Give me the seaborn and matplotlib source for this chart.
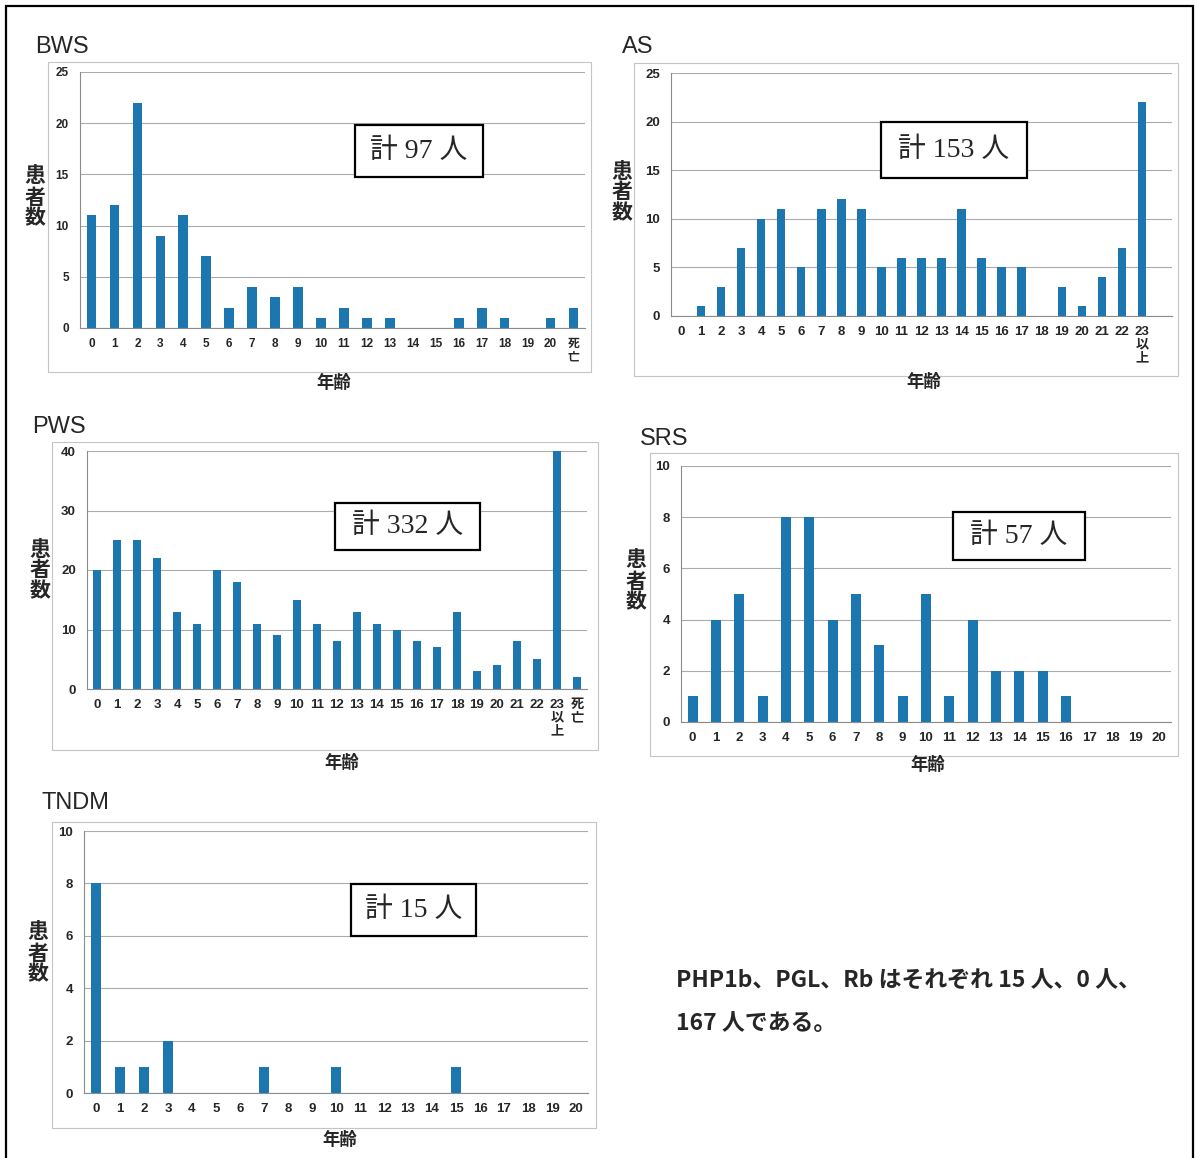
import matplotlib
matplotlib.use("Agg")
import matplotlib.pyplot as plt
import seaborn as sns
import pandas as pd
import numpy as np
from matplotlib.patches import Rectangle

W, H = 1198, 1158
BAR = "#1c76b0"

# data
bws_ages = [str(i) for i in range(21)] + ["死\n亡"]
bws_counts = [11, 12, 22, 9, 11, 7, 2, 4, 3, 4, 1, 2, 1, 1, 0, 0, 1, 2, 1, 0, 1, 2]

as_ages = [str(i) for i in range(23)] + ["23\n以\n上"]
as_counts = [0, 1, 3, 7, 10, 11, 5, 11, 12, 11, 5, 6, 6, 6, 11, 6, 5, 5, 0, 3, 1, 4, 7, 22]

pws_ages = [str(i) for i in range(23)] + ["23\n以\n上", "死\n亡"]
pws_counts = [20, 25, 25, 22, 13, 11, 20, 18, 11, 9, 15, 11, 8, 13, 11, 10, 8, 7, 13, 3, 4, 8, 5, 40, 2]

srs_ages = [str(i) for i in range(21)]
srs_counts = [1, 4, 5, 1, 8, 8, 4, 5, 3, 1, 5, 1, 4, 2, 2, 2, 1, 0, 0, 0, 0]

tndm_ages = [str(i) for i in range(21)]
tndm_counts = [8, 1, 1, 2, 0, 0, 0, 1, 0, 0, 1, 0, 0, 0, 0, 1, 0, 0, 0, 0, 0]

sns.set_theme(style="white")
plt.rcParams["font.family"] = ["Liberation Sans", "Noto Sans CJK JP"]

fig = plt.figure(figsize=(W / 100, H / 100), dpi=100)


def fx(x):
    return x / W


def fy(y):
    return 1 - y / H


def box(l, t, r, b, **kw):
    fig.add_artist(Rectangle((fx(l), fy(b)), (r - l) / W, (b - t) / H,
                             transform=fig.transFigure, **kw))


def panel(name, ages, counts, ymax, ystep, plot_px, frame_px, title_xy,
          ylab_xy, xlab_xy, total, total_px, nslots=None, tsize=9.5):
    box(*frame_px, fill=False, edgecolor="#c4c4c4", lw=0.8, zorder=0)
    l, t, r, b = plot_px
    ax = fig.add_axes([fx(l), fy(b), (r - l) / W, (b - t) / H])
    ax.patch.set_alpha(0)
    df = pd.DataFrame({"age": ages, "count": counts})
    sns.barplot(data=df, x="age", y="count", order=ages, color=BAR,
                saturation=1, width=0.42, linewidth=0, ax=ax)
    n = nslots or len(ages)
    ax.set_xlim(-0.5, n - 0.5)
    ax.set_ylim(0, ymax)
    ax.set_yticks(np.arange(0, ymax + 1, ystep))
    ax.yaxis.grid(True, color="#ababab", lw=0.8)
    ax.set_axisbelow(True)
    for s in ["top", "right"]:
        ax.spines[s].set_visible(False)
    for s in ["left", "bottom"]:
        ax.spines[s].set_color("#8c8c8c")
        ax.spines[s].set_linewidth(0.8)
    ax.tick_params(axis="y", length=4, width=0.8, color="#8c8c8c", pad=4,
                   labelsize=tsize)
    ax.set_xticks(np.arange(-0.5, n), minor=True)
    ax.tick_params(axis="x", which="major", length=0, pad=7, labelsize=tsize)
    ax.tick_params(axis="x", which="minor", length=4, width=0.8,
                   color="#8c8c8c")
    ax.set_xticklabels(ages, linespacing=1.15, fontweight="bold")
    for lab in ax.get_yticklabels():
        lab.set_fontweight("bold")
    ax.set_xlabel("")
    ax.set_ylabel("")

    fig.text(fx(title_xy[0]), fy(title_xy[1]), name, fontsize=17,
             ha="left", va="center", family="Liberation Sans")
    fig.text(fx(ylab_xy[0]), fy(ylab_xy[1]), "患\n者\n数", fontsize=15,
             fontweight="bold", ha="center", va="center", linespacing=1.0,
             family="Noto Sans CJK JP")
    fig.text(fx(xlab_xy[0]), fy(xlab_xy[1]), "年齢", fontsize=12.5,
             fontweight="bold", ha="center", va="center",
             family="Noto Sans CJK JP")

    tl, tt, tr, tb = total_px
    box(tl, tt, tr, tb, facecolor="white", edgecolor="black", lw=1.6, zorder=5)
    fig.text(fx((tl + tr) / 2), fy((tt + tb) / 2), f"計 {total} 人",
             fontsize=20, ha="center", va="center", zorder=6,
             family=["Liberation Serif", "Noto Sans CJK JP"])
    return ax


panel("BWS", bws_ages, bws_counts, 25, 5, (80, 72, 585, 328),
      (48, 62, 591, 372), (35, 47), (35, 197), (334, 383),
      97, (355, 125, 483, 177), tsize=8.5)
panel("AS", as_ages, as_counts, 25, 5, (671, 73, 1172, 316),
      (634, 63, 1178, 376), (622, 47), (622, 192), (924, 382),
      153, (881, 122, 1027, 178), nslots=25)
panel("PWS", pws_ages, pws_counts, 40, 10, (87, 451, 587, 689),
      (52, 442, 598, 750), (32, 427), (40, 570), (342, 763),
      332, (335, 503, 480, 550))
panel("SRS", srs_ages, srs_counts, 10, 2, (681, 466, 1171, 722),
      (650, 453, 1178, 756), (640, 439), (636, 581), (928, 765),
      57, (953, 512, 1085, 560))
panel("TNDM", tndm_ages, tndm_counts, 10, 2, (84, 831, 588, 1093),
      (52, 822, 596, 1128), (42, 803), (38, 953), (340, 1140),
      15, (351, 884, 476, 936))

fig.text(fx(676), fy(981), "PHP1b、PGL、Rb はそれぞれ 15 人、0 人、",
         fontsize=16.5, fontweight="bold", ha="left", va="center",
         family="Noto Sans CJK JP")
fig.text(fx(676), fy(1023), "167 人である。", fontsize=16.5,
         fontweight="bold", ha="left", va="center", family="Noto Sans CJK JP")

# outer frame of the page
box(6, 6, 1193, 1175, fill=False, edgecolor="black", lw=1.6, zorder=10)

fig.savefig("out.png", dpi=100)
